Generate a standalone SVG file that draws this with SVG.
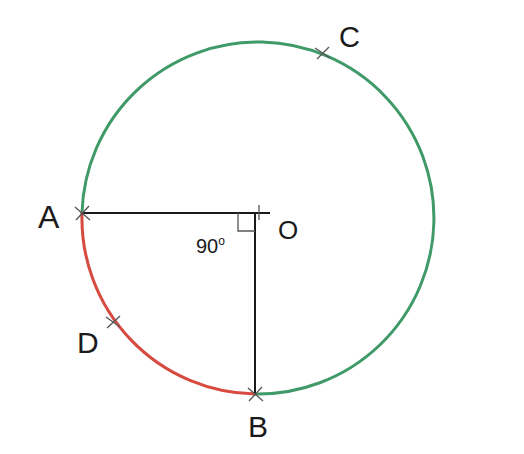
<svg xmlns="http://www.w3.org/2000/svg" width="524" height="454" viewBox="0 0 524 454">
<style>
.lbl{font-family:"Liberation Sans",Arial,sans-serif;fill:#1a1a1a}
.arc{fill:none;stroke-width:3;stroke-linecap:round}
.line{stroke:#1a1a1a;stroke-width:2;fill:none}
.tick{stroke:#555;stroke-width:1.3;fill:none}
</style>
<rect width="524" height="454" fill="#fff"/>
<g id="connectors">
<path id="arc-green" class="arc" stroke="#3f9a68" d="M255 394 A176 176 0 1 0 82 213"/>
<path id="arc-red" class="arc" stroke="#d64a40" d="M82 213 A176 176 0 0 0 255 394"/>
<line id="OA" class="line" x1="82" y1="213" x2="270" y2="213"/>
<line id="OB" class="line" x1="255" y1="213" x2="255" y2="394"/>
<path id="right-angle" class="tick" stroke="#333" d="M238 213 V231 H255"/>
</g>
<g id="A"><path class="tick" d="M75 207 L90 220 M76 220 L89 206"/><text class="lbl" x="38" y="228" font-size="32">A</text></g>
<g id="B"><path class="tick" d="M248 388 L263 401 M249 401 L262 387"/><text class="lbl" x="248" y="437" font-size="30">B</text></g>
<g id="C"><path class="tick" d="M315 48 L330 58 M317 59 L329 47"/><text class="lbl" x="339" y="47" font-size="29">C</text></g>
<g id="D"><path class="tick" d="M106 317 L120 327 M107 328 L120 316"/><text class="lbl" x="77" y="353" font-size="30">D</text></g>
<g id="O"><path class="tick" d="M259 205 V220"/><text class="lbl" x="278" y="239" font-size="26">O</text></g>
<g id="angle"><text class="lbl" x="196" y="253" font-size="20">90<tspan font-size="12" dy="-8">o</tspan></text></g>
</svg>
